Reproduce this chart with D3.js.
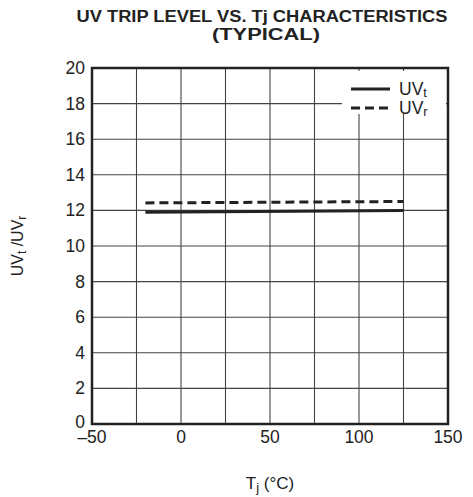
<html>
<head>
  <meta charset="utf-8" />
  <title>UV Trip Level vs Tj</title>
  <style>
    body { margin: 0; background: white; }
    svg { font-family: "Liberation Sans", Arial, sans-serif; }
  </style>
</head>
<script src="https://d3js.org/d3.v7.min.js"></script>
<body>
  <svg id="chart" width="473" height="497"></svg>
<script>
  // temperatures (°C) and trip levels
  var temps = [-20, 125];
  var uvt = [11.9, 12.0];
  var uvr = [12.42, 12.5];
  var xTicks = [-50, 0, 50, 100, 150];
  var yTicks = [0, 2, 4, 6, 8, 10, 12, 14, 16, 18, 20];

  var svg = d3.select("#chart");
  var pLeft = 92, pRight = 448, pTop = 68, pBottom = 424;

  var x = d3.scaleLinear().domain([-50, 150]).range([pLeft, pRight]);
  var y = d3.scaleLinear().domain([0, 20]).range([pBottom, pTop]);

  // grid
  svg.append("g").selectAll("line")
    .data(d3.range(-25, 150, 25))
    .enter().append("line")
    .attr("x1", function (d) { return x(d) }).attr("x2", function (d) { return x(d) })
    .attr("y1", pTop).attr("y2", pBottom)
    .style("stroke", "#444").style("stroke-width", 1.1);
  svg.append("g").selectAll("line")
    .data(yTicks.slice(1, -1))
    .enter().append("line")
    .attr("y1", function (d) { return y(d) }).attr("y2", function (d) { return y(d) })
    .attr("x1", pLeft).attr("x2", pRight)
    .style("stroke", "#444").style("stroke-width", 1.1);

  // frame
  svg.append("rect")
    .attr("x", pLeft).attr("y", pTop)
    .attr("width", pRight - pLeft).attr("height", pBottom - pTop)
    .style("fill", "none").style("stroke", "#222").style("stroke-width", 2.5);

  // tick labels
  svg.append("g").selectAll("text")
    .data(yTicks)
    .enter().append("text")
    .attr("x", pLeft - 7)
    .attr("y", function (d) { return y(d) + (d === 0 ? 4 : 6) })
    .attr("text-anchor", "end")
    .style("font-size", "17.5px").style("fill", "#222")
    .text(function (d) { return d });
  svg.append("g").selectAll("text")
    .data(xTicks)
    .enter().append("text")
    .attr("x", function (d) { return x(d) })
    .attr("y", 443)
    .attr("text-anchor", "middle")
    .style("font-size", "17.5px").style("fill", "#222")
    .text(function (d) { return d < 0 ? "\u2013" + (-d) : d });

  // series
  var line = d3.line()
    .x(function (d) { return x(d[0]) })
    .y(function (d) { return y(d[1]) });
  svg.append("path")
    .datum(d3.zip(temps, uvt))
    .attr("d", line)
    .style("fill", "none").style("stroke", "#222").style("stroke-width", 3);
  svg.append("path")
    .datum(d3.zip(temps, uvr))
    .attr("d", line)
    .style("fill", "none").style("stroke", "#222").style("stroke-width", 3)
    .style("stroke-dasharray", "9,5");

  // legend
  svg.append("rect").attr("x", 342).attr("y", 71).attr("width", 104).attr("height", 43)
    .style("fill", "white");
  var legend = [["UV", "t", null], ["UV", "r", "9,5"]];
  legend.forEach(function (l, i) {
    var ly = 89 + i * 19;
    svg.append("line").attr("x1", 351).attr("x2", 390).attr("y1", ly).attr("y2", ly)
      .style("stroke", "#222").style("stroke-width", 3)
      .style("stroke-dasharray", l[2]);
    var t = svg.append("text").attr("x", 399).attr("y", ly + 6)
      .style("font-size", "17.5px").style("fill", "#222");
    t.append("tspan").text(l[0]);
    t.append("tspan").attr("dy", 2).style("font-size", "13px").text(l[1]);
  });

  // titles
  svg.append("text").attr("x", 262).attr("y", 22).attr("text-anchor", "middle")
    .attr("textLength", 371).attr("lengthAdjust", "spacingAndGlyphs")
    .style("font-size", "16px").style("font-weight", "bold").style("fill", "#222")
    .text("UV TRIP LEVEL VS. Tj CHARACTERISTICS");
  svg.append("text").attr("x", 266).attr("y", 40).attr("text-anchor", "middle")
    .attr("textLength", 108).attr("lengthAdjust", "spacingAndGlyphs")
    .style("font-size", "16px").style("font-weight", "bold").style("fill", "#222")
    .text("(TYPICAL)");

  var xt = svg.append("text").attr("x", 270).attr("y", 489).attr("text-anchor", "middle")
    .style("font-size", "17px").style("fill", "#222");
  xt.append("tspan").text("T");
  xt.append("tspan").attr("dy", 3).style("font-size", "13px").text("j");
  xt.append("tspan").attr("dy", -3).text(" (\u00B0C)");

  var yt = svg.append("text").attr("transform", "translate(23,246) rotate(-90)")
    .attr("text-anchor", "middle")
    .style("font-size", "16px").style("fill", "#222");
  yt.append("tspan").text("UV");
  yt.append("tspan").attr("dy", 3).style("font-size", "12px").text("t");
  yt.append("tspan").attr("dy", -3).text(" /UV");
  yt.append("tspan").attr("dy", 3).style("font-size", "12px").text("r");
</script>
</body>
</html>
